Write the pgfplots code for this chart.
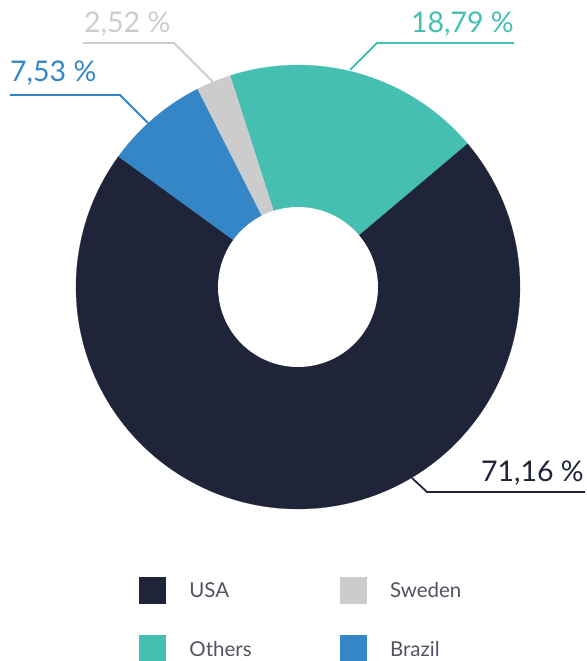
\documentclass[border=0pt]{standalone}
\usepackage{fontspec}
\setmainfont{Lato}
\usepackage{pgfplots}
\usepackage{pgfplotstable}
\pgfplotsset{compat=1.18}
\definecolor{cUSA}{HTML}{1F2438}
\definecolor{cSwe}{HTML}{CCCCCC}
\definecolor{cOth}{HTML}{45BFB1}
\definecolor{cBra}{HTML}{3486C6}
\definecolor{legtxt}{HTML}{50545F}
\pgfplotstableread{
country share
Others 18.79
USA 71.16
Brazil 7.53
Sweden 2.52
}\shares
\pgfplotstablegetelem{0}{share}\of\shares \let\sOth\pgfplotsretval
\pgfplotstablegetelem{1}{share}\of\shares \let\sUSA\pgfplotsretval
\pgfplotstablegetelem{2}{share}\of\shares \let\sBra\pgfplotsretval
\pgfplotstablegetelem{3}{share}\of\shares \let\sSwe\pgfplotsretval
\pgfmathsetmacro{\aA}{107.8}
\pgfmathsetmacro{\aB}{\aA-3.6*\sOth}
\pgfmathsetmacro{\aC}{\aB-3.6*\sUSA}
\pgfmathsetmacro{\aD}{\aC-3.6*\sBra}
\pgfmathsetmacro{\aE}{\aD-3.6*\sSwe}
\newcommand{\pctfont}{\fontsize{28.5bp}{34bp}\selectfont}
\newcommand{\legfont}{\fontsize{20.5bp}{24bp}\selectfont}
\begin{document}
\begin{tikzpicture}
\begin{axis}[at={(0,0)}, anchor=south west, scale only axis,
  width=587bp, height=661bp, xmin=0, xmax=587, ymin=0, ymax=661,
  y dir=reverse, hide axis, clip=false,
  legend columns=2,
  legend image code/.code={\fill[#1] (0bp,-5.5bp) rectangle (26bp,20.5bp);},
  legend style={draw=none, fill=none, at={(axis cs:139,577)}, anchor=north west,
    inner sep=0pt, outer sep=0pt, row sep=32bp, font=\legfont, text=legtxt,
    nodes={inner sep=0pt, anchor=base west},
    /tikz/every odd column/.append style={column sep=24bp},
    /tikz/every even column/.append style={column sep=88bp}},
]
% slices
\addplot[forget plot, fill=cOth, draw=cOth, line width=0.2pt, domain=\aB:\aA, samples=80]
  ({298+222*cos(x)},{287-222*sin(x)}) -- (298,287) -- cycle;
\addplot[forget plot, fill=cUSA, draw=cUSA, line width=0.2pt, domain=\aC:\aB, samples=240]
  ({298+222*cos(x)},{287-222*sin(x)}) -- (298,287) -- cycle;
\addplot[forget plot, fill=cBra, draw=cBra, line width=0.2pt, domain=\aD:\aC, samples=40]
  ({298+222*cos(x)},{287-222*sin(x)}) -- (298,287) -- cycle;
\addplot[forget plot, fill=cSwe, draw=cSwe, line width=0.2pt, domain=\aE:\aD, samples=20]
  ({298+222*cos(x)},{287-222*sin(x)}) -- (298,287) -- cycle;
% hole
\addplot[forget plot, fill=white, draw=none, domain=0:360, samples=120]
  ({298+80*cos(x)},{287-80*sin(x)}) -- cycle;
% leader lines
\addplot[forget plot, cOth, line width=1.8bp] coordinates {(350,70) (377,43) (514,43)};
\addplot[forget plot, cSwe, line width=1.8bp] coordinates {(213,82) (174,43) (83,43)};
\addplot[forget plot, cBra, line width=1.8bp] coordinates {(148,123) (120,95) (10,95)};
\addplot[forget plot, cUSA, line width=1.8bp] coordinates {(412,478) (427,492) (585,492)};
% labels
\node[anchor=base east, inner sep=0pt, text=cOth, font=\pctfont] at (axis cs:514,33) {18,79 \%};
\node[anchor=base west, inner sep=0pt, text=cSwe, font=\pctfont] at (axis cs:84,33) {2,52 \%};
\node[anchor=base west, inner sep=0pt, text=cBra, font=\pctfont] at (axis cs:10,82) {7,53 \%};
\node[anchor=base east, inner sep=0pt, text=cUSA, font=\pctfont] at (axis cs:584,481) {71,16 \%};
% legend
\addlegendimage{cUSA}\addlegendentry{USA}
\addlegendimage{cSwe}\addlegendentry{Sweden}
\addlegendimage{cOth}\addlegendentry{Others}
\addlegendimage{cBra}\addlegendentry{Brazil}
\end{axis}
\pgfresetboundingbox
\path (0,0) rectangle (587bp,661bp);
\end{tikzpicture}
\end{document}
